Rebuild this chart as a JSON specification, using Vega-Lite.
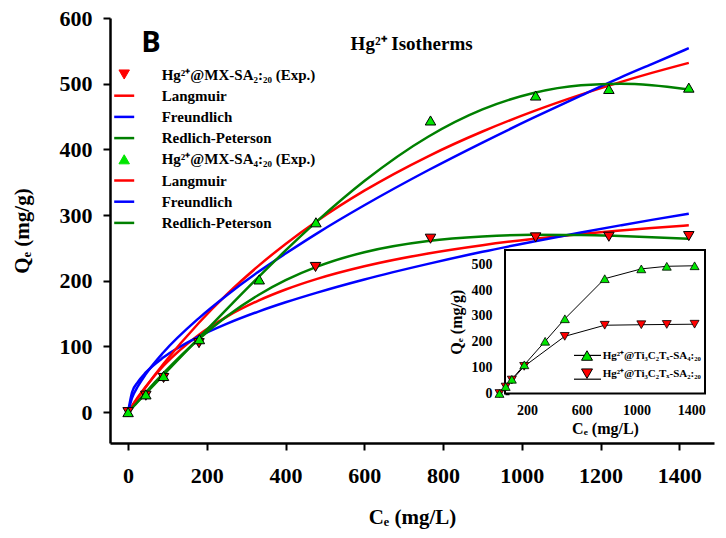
{
  "$schema": "https://vega.github.io/schema/vega-lite/v6.json",
  "width": 604,
  "height": 425,
  "autosize": "none",
  "padding": {"left": 110, "top": 18, "right": 12, "bottom": 95},
  "background": "white",
  "config": {
    "view": {"stroke": null},
    "font": "Liberation Serif",
    "axis": {
      "labelFont": "Liberation Serif", "labelFontWeight": "bold", "labelColor": "black",
      "titleFont": "Liberation Serif", "titleFontWeight": "bold", "titleColor": "black",
      "domainColor": "black", "tickColor": "black", "grid": false
    },
    "legend": {"labelFont": "Liberation Serif", "labelFontWeight": "bold", "labelColor": "black", "padding": 0, "title": null, "labelLimit": 400}
  },
  "datasets": {
    "exp": [
      {"s": "a0", "m": "SA2:20", "Ce": 0, "Q": 0}, {"s": "a0", "m": "SA2:20", "Ce": 45, "Q": 25}, {"s": "a0", "m": "SA2:20", "Ce": 90, "Q": 52},
      {"s": "a0", "m": "SA2:20", "Ce": 180, "Q": 105}, {"s": "a0", "m": "SA2:20", "Ce": 476, "Q": 221}, {"s": "a0", "m": "SA2:20", "Ce": 768, "Q": 264},
      {"s": "a0", "m": "SA2:20", "Ce": 1035, "Q": 266}, {"s": "a0", "m": "SA2:20", "Ce": 1221, "Q": 267}, {"s": "a0", "m": "SA2:20", "Ce": 1424, "Q": 268},
      {"s": "b0", "m": "SA4:20", "Ce": 0, "Q": 0}, {"s": "b0", "m": "SA4:20", "Ce": 45, "Q": 27}, {"s": "b0", "m": "SA4:20", "Ce": 90, "Q": 55},
      {"s": "b0", "m": "SA4:20", "Ce": 181, "Q": 111}, {"s": "b0", "m": "SA4:20", "Ce": 333, "Q": 202}, {"s": "b0", "m": "SA4:20", "Ce": 477, "Q": 289},
      {"s": "b0", "m": "SA4:20", "Ce": 768, "Q": 444}, {"s": "b0", "m": "SA4:20", "Ce": 1035, "Q": 482}, {"s": "b0", "m": "SA4:20", "Ce": 1221, "Q": 492},
      {"s": "b0", "m": "SA4:20", "Ce": 1424, "Q": 494}
    ],
    "fits": [
      {"s": "a1", "Ce": 0, "Q": 0}, {"s": "a1", "Ce": 10, "Q": 9.5}, {"s": "a1", "Ce": 25, "Q": 22.9}, {"s": "a1", "Ce": 45, "Q": 39.1},
      {"s": "a1", "Ce": 90, "Q": 70.6}, {"s": "a1", "Ce": 180, "Q": 117.9}, {"s": "a1", "Ce": 250, "Q": 145.1}, {"s": "a1", "Ce": 331, "Q": 169.8},
      {"s": "a1", "Ce": 400, "Q": 186.7}, {"s": "a1", "Ce": 480, "Q": 202.9}, {"s": "a1", "Ce": 600, "Q": 222.1}, {"s": "a1", "Ce": 762, "Q": 241.6},
      {"s": "a1", "Ce": 900, "Q": 254.2}, {"s": "a1", "Ce": 1027, "Q": 263.6}, {"s": "a1", "Ce": 1150, "Q": 271.3}, {"s": "a1", "Ce": 1250, "Q": 276.6},
      {"s": "a1", "Ce": 1330, "Q": 280.4}, {"s": "a1", "Ce": 1424, "Q": 284.4},
      {"s": "a2", "Ce": 0, "Q": 0}, {"s": "a2", "Ce": 10, "Q": 30.0}, {"s": "a2", "Ce": 25, "Q": 45.9}, {"s": "a2", "Ce": 45, "Q": 60.4},
      {"s": "a2", "Ce": 90, "Q": 83.4}, {"s": "a2", "Ce": 180, "Q": 115.3}, {"s": "a2", "Ce": 250, "Q": 134.3}, {"s": "a2", "Ce": 331, "Q": 153.1},
      {"s": "a2", "Ce": 400, "Q": 167.2}, {"s": "a2", "Ce": 480, "Q": 182.0}, {"s": "a2", "Ce": 600, "Q": 202.0}, {"s": "a2", "Ce": 762, "Q": 225.7},
      {"s": "a2", "Ce": 900, "Q": 244.1}, {"s": "a2", "Ce": 1027, "Q": 259.4}, {"s": "a2", "Ce": 1150, "Q": 273.5}, {"s": "a2", "Ce": 1250, "Q": 284.3},
      {"s": "a2", "Ce": 1330, "Q": 292.7}, {"s": "a2", "Ce": 1424, "Q": 302.0},
      {"s": "a3", "Ce": 0, "Q": 0}, {"s": "a3", "Ce": 10, "Q": 6.8}, {"s": "a3", "Ce": 25, "Q": 16.9}, {"s": "a3", "Ce": 45, "Q": 30.3},
      {"s": "a3", "Ce": 90, "Q": 59.2}, {"s": "a3", "Ce": 180, "Q": 111.3}, {"s": "a3", "Ce": 250, "Q": 145.5}, {"s": "a3", "Ce": 331, "Q": 178.3},
      {"s": "a3", "Ce": 400, "Q": 200.8}, {"s": "a3", "Ce": 480, "Q": 221.4}, {"s": "a3", "Ce": 600, "Q": 243.5}, {"s": "a3", "Ce": 762, "Q": 260.6},
      {"s": "a3", "Ce": 900, "Q": 267.5}, {"s": "a3", "Ce": 1027, "Q": 269.9}, {"s": "a3", "Ce": 1150, "Q": 269.6}, {"s": "a3", "Ce": 1250, "Q": 268.1},
      {"s": "a3", "Ce": 1330, "Q": 266.4}, {"s": "a3", "Ce": 1424, "Q": 263.9},
      {"s": "b1", "Ce": 0, "Q": 0}, {"s": "b1", "Ce": 10, "Q": 8.8}, {"s": "b1", "Ce": 25, "Q": 21.7}, {"s": "b1", "Ce": 45, "Q": 38.3},
      {"s": "b1", "Ce": 90, "Q": 73.5}, {"s": "b1", "Ce": 180, "Q": 136.1}, {"s": "b1", "Ce": 250, "Q": 178.8}, {"s": "b1", "Ce": 331, "Q": 222.6},
      {"s": "b1", "Ce": 400, "Q": 256.1}, {"s": "b1", "Ce": 480, "Q": 291.1}, {"s": "b1", "Ce": 600, "Q": 337.1}, {"s": "b1", "Ce": 762, "Q": 389.5},
      {"s": "b1", "Ce": 900, "Q": 427.2}, {"s": "b1", "Ce": 1027, "Q": 457.4}, {"s": "b1", "Ce": 1150, "Q": 483.3}, {"s": "b1", "Ce": 1250, "Q": 502.3},
      {"s": "b1", "Ce": 1330, "Q": 516.4}, {"s": "b1", "Ce": 1424, "Q": 531.7},
      {"s": "b2", "Ce": 0, "Q": 0}, {"s": "b2", "Ce": 10, "Q": 21.6}, {"s": "b2", "Ce": 25, "Q": 39.4}, {"s": "b2", "Ce": 45, "Q": 57.9},
      {"s": "b2", "Ce": 90, "Q": 91.1}, {"s": "b2", "Ce": 180, "Q": 143.2}, {"s": "b2", "Ce": 250, "Q": 177.6}, {"s": "b2", "Ce": 331, "Q": 213.6},
      {"s": "b2", "Ce": 400, "Q": 241.4}, {"s": "b2", "Ce": 480, "Q": 272.2}, {"s": "b2", "Ce": 600, "Q": 314.9}, {"s": "b2", "Ce": 762, "Q": 368.2},
      {"s": "b2", "Ce": 900, "Q": 410.4}, {"s": "b2", "Ce": 1027, "Q": 447.4}, {"s": "b2", "Ce": 1150, "Q": 481.9}, {"s": "b2", "Ce": 1250, "Q": 509.3},
      {"s": "b2", "Ce": 1330, "Q": 529.9}, {"s": "b2", "Ce": 1424, "Q": 554.0},
      {"s": "b3", "Ce": 0, "Q": 0}, {"s": "b3", "Ce": 10, "Q": 6.3}, {"s": "b3", "Ce": 25, "Q": 15.8}, {"s": "b3", "Ce": 45, "Q": 28.4},
      {"s": "b3", "Ce": 90, "Q": 56.7}, {"s": "b3", "Ce": 180, "Q": 113.1}, {"s": "b3", "Ce": 250, "Q": 156.5}, {"s": "b3", "Ce": 331, "Q": 205.6},
      {"s": "b3", "Ce": 400, "Q": 246.1}, {"s": "b3", "Ce": 480, "Q": 290.7}, {"s": "b3", "Ce": 600, "Q": 351.7}, {"s": "b3", "Ce": 762, "Q": 419.2},
      {"s": "b3", "Ce": 900, "Q": 460.8}, {"s": "b3", "Ce": 1027, "Q": 485.4}, {"s": "b3", "Ce": 1150, "Q": 497.6}, {"s": "b3", "Ce": 1250, "Q": 499.9},
      {"s": "b3", "Ce": 1330, "Q": 497.7}, {"s": "b3", "Ce": 1424, "Q": 491.2}
    ]
  },
  "layer": [
    {
      "layer": [
        {
          "data": {"name": "fits"},
          "mark": {"type": "line", "interpolate": "monotone", "strokeWidth": 2.5},
          "encoding": {
            "x": {
              "field": "Ce", "type": "quantitative",
              "scale": {"domain": [-46, 1488], "nice": false, "zero": false},
              "axis": {
                "orient": "bottom", "values": [0, 200, 400, 600, 800, 1000, 1200, 1400], "format": "d",
                "title": "Cₑ (mg/L)", "domainWidth": 2.5, "tickSize": 7, "tickWidth": 2,
                "labelFontSize": 22, "labelPadding": 15, "titleFontSize": 21, "titlePadding": 20
              }
            },
            "y": {
              "field": "Q", "type": "quantitative",
              "scale": {"domain": [-47, 600], "nice": false, "zero": false},
              "axis": {
                "orient": "left", "values": [0, 100, 200, 300, 400, 500, 600], "format": "d",
                "title": "Qₑ (mg/g)", "domainWidth": 2.5, "tickSize": 7, "tickWidth": 2,
                "labelFontSize": 22, "labelPadding": 11, "titleFontSize": 21, "titlePadding": 27
              }
            },
            "detail": {"field": "s"},
            "color": {
              "field": "s", "type": "nominal",
              "scale": {
                "domain": ["a0", "a1", "a2", "a3", "b0", "b1", "b2", "b3"],
                "range": ["#ff0000", "#ff0000", "#0000ff", "#008000", "#00e600", "#ff0000", "#0000ff", "#008000"]
              },
              "legend": {
                "orient": "none", "legendX": 6.7, "legendY": 49,
                "symbolSize": 400, "labelOffset": 30, "rowPadding": 5.2, "labelFontSize": 15,
                "labelExpr": "datum.value == 'a0' ? 'Hg²⁺@MX-SA₂:₂₀ (Exp.)' : datum.value == 'b0' ? 'Hg²⁺@MX-SA₄:₂₀ (Exp.)' : (datum.value == 'a1' || datum.value == 'b1') ? 'Langmuir' : (datum.value == 'a2' || datum.value == 'b2') ? 'Freundlich' : 'Redlich-Peterson'",
                "encode": {
                  "symbols": {
                    "update": {
                      "shape": {"signal": "datum.value == 'a0' ? 'triangle-down' : datum.value == 'b0' ? 'triangle-up' : 'stroke'"},
                      "size": {"signal": "(datum.value == 'a0' || datum.value == 'b0') ? 110 : 400"},
                      "fill": {"signal": "datum.value == 'a0' ? '#ff0000' : datum.value == 'b0' ? '#00e600' : 'transparent'"},
                      "stroke": {"signal": "(datum.value == 'a0' || datum.value == 'b0') ? '#000000' : (datum.value == 'a1' || datum.value == 'b1') ? '#ff0000' : (datum.value == 'a2' || datum.value == 'b2') ? '#0000ff' : '#008000'"},
                      "strokeWidth": {"signal": "(datum.value == 'a0' || datum.value == 'b0') ? 1 : 2.5"},
                      "opacity": {"value": 1}
                    }
                  }
                }
              }
            }
          }
        },
        {
          "data": {"name": "exp"},
          "mark": {"type": "point", "filled": true, "opacity": 1, "stroke": "black", "strokeWidth": 1, "size": 110},
          "encoding": {
            "x": {"field": "Ce", "type": "quantitative"},
            "y": {"field": "Q", "type": "quantitative"},
            "color": {"field": "s", "type": "nominal"},
            "shape": {
              "field": "s", "type": "nominal",
              "scale": {"domain": ["a0", "b0"], "range": ["triangle-down", "triangle-up"]},
              "legend": null
            }
          }
        },
        {
          "data": {"values": [{"label": "B"}]},
          "mark": {"type": "text", "font": "Open Sans", "fontSize": 29, "fontWeight": "bold", "align": "center", "baseline": "alphabetic", "color": "black"},
          "encoding": {
            "x": {"datum": 58, "type": "quantitative"},
            "y": {"datum": 548, "type": "quantitative"},
            "text": {"field": "label"}
          }
        },
        {
          "data": {"values": [{"label": "Hg²⁺ Isotherms"}]},
          "mark": {"type": "text", "font": "Liberation Serif", "fontSize": 19, "fontWeight": "bold", "align": "center", "baseline": "alphabetic", "color": "black"},
          "encoding": {
            "x": {"datum": 720, "type": "quantitative"},
            "y": {"datum": 552, "type": "quantitative"},
            "text": {"field": "label"}
          }
        }
      ]
    },
    {
      "layer": [
        {
          "data": {"values": [{"frame": "inset"}]},
          "mark": {"type": "rect", "fill": "white", "stroke": "black", "strokeWidth": 2},
          "encoding": {
            "x": {
              "datum": 40, "type": "quantitative",
              "scale": {"domain": [40, 1500], "range": [395, 595], "nice": false, "zero": false},
              "axis": {
                "orient": "bottom", "offset": -49.5, "values": [200, 600, 1000, 1400], "format": "d",
                "title": "Cₑ (mg/L)", "domain": false, "tickSize": -4, "tickWidth": 1.5,
                "labelFontSize": 14, "labelPadding": 14, "titleFontSize": 16, "titlePadding": 3
              }
            },
            "x2": {"datum": 1500},
            "y": {
              "datum": 0, "type": "quantitative",
              "scale": {"domain": [0, 555], "range": [375.5, 232], "nice": false, "zero": false},
              "axis": {
                "orient": "left", "offset": -395, "values": [0, 100, 200, 300, 400, 500], "format": "d",
                "title": "Qₑ (mg/g)", "domain": false, "tickSize": -4, "tickWidth": 1.5,
                "labelFontSize": 14, "labelPadding": 17, "titleFontSize": 16, "titlePadding": 7
              }
            },
            "y2": {"datum": 555}
          }
        },
        {
          "data": {"name": "exp"},
          "mark": {"type": "line", "strokeWidth": 1},
          "encoding": {
            "x": {"field": "Ce", "type": "quantitative"},
            "y": {"field": "Q", "type": "quantitative"},
            "stroke": {
              "field": "m", "type": "nominal",
              "scale": {"domain": ["SA4:20", "SA2:20"], "range": ["#000000", "#000000"]},
              "legend": {
                "orient": "none", "legendX": 463, "legendY": 322.9,
                "symbolType": "stroke", "symbolSize": 729, "symbolStrokeWidth": 1.2, "symbolStrokeColor": "#000000",
                "labelOffset": 9.7, "rowPadding": 3.8, "labelFontSize": 11,
                "labelExpr": "' '"
              }
            }
          }
        },
        {
          "data": {"name": "exp"},
          "mark": {"type": "point", "filled": true, "opacity": 1, "stroke": "black", "strokeWidth": 0.8, "size": 80},
          "encoding": {
            "x": {"field": "Ce", "type": "quantitative"},
            "y": {"field": "Q", "type": "quantitative"},
            "color": {
              "field": "s", "type": "nominal",
              "scale": {"domain": ["b0", "a0"], "range": ["#00e600", "#ff0000"]},
              "legend": {
                "orient": "none", "legendX": 471, "legendY": 331.5,
                "symbolSize": 121, "symbolStrokeWidth": 1,
                "labelOffset": 9.7, "rowPadding": 4.2, "labelFontSize": 11,
                "labelExpr": "datum.value == 'b0' ? 'Hg²⁺@Ti₃C₂Tₓ-SA₄:₂₀' : 'Hg²⁺@Ti₃C₂Tₓ-SA₂:₂₀'",
                "encode": {
                  "symbols": {
                    "update": {
                      "shape": {"signal": "datum.value == 'b0' ? 'triangle-up' : 'triangle-down'"},
                      "fill": {"signal": "datum.value == 'b0' ? '#00e600' : '#ff0000'"},
                      "stroke": {"value": "#000000"},
                      "strokeWidth": {"value": 1},
                      "opacity": {"value": 1}
                    }
                  }
                }
              }
            },
            "shape": {
              "field": "s", "type": "nominal",
              "scale": {"domain": ["b0", "a0"], "range": ["triangle-up", "triangle-down"]},
              "legend": null
            }
          }
        }
      ]
    }
  ],
  "resolve": {
    "scale": {"x": "independent", "y": "independent", "color": "independent", "shape": "independent", "stroke": "independent"},
    "axis": {"x": "independent", "y": "independent"},
    "legend": {"color": "independent", "shape": "independent", "stroke": "independent"}
  }
}
